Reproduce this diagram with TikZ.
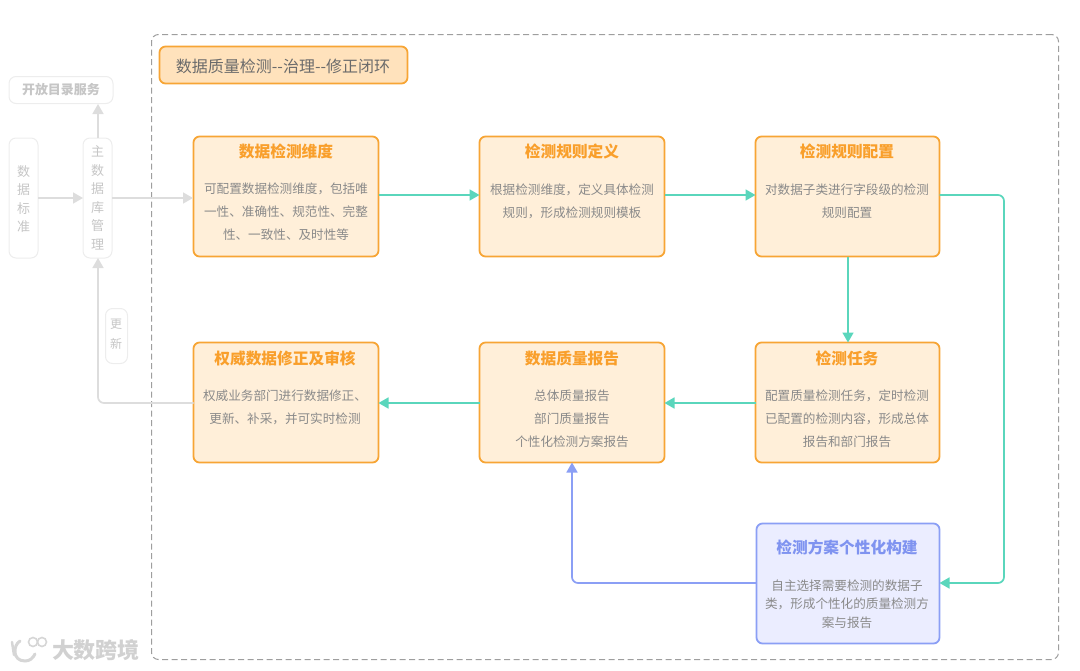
\documentclass[tikz,border=0pt]{standalone}
\usepackage{fontspec}
\setmainfont{Noto Sans CJK SC}
\usetikzlibrary{arrows.meta}
\definecolor{orangeline}{HTML}{F7A535}
\definecolor{orangefill}{HTML}{FFEFD9}
\definecolor{headfill}{HTML}{FFE2BC}
\definecolor{orangetext}{HTML}{F99F2B}
\definecolor{blueline}{HTML}{8B9FF5}
\definecolor{bluefill}{HTML}{EBEDFF}
\definecolor{bluetext}{HTML}{7F93F0}
\definecolor{teal}{HTML}{5AD6BC}
\definecolor{lgray}{HTML}{DDDDDD}
\definecolor{ftext}{HTML}{C6C6C6}
\definecolor{btext}{HTML}{8A8A8A}
\tikzset{
  x=1pt,y=-1pt,
  box/.style={draw=orangeline,fill=orangefill,line width=1.8pt,rounded corners=6pt,anchor=north west,inner sep=0pt,outer sep=0pt},
  bluebox/.style={box,draw=blueline,fill=bluefill},
  headbox/.style={box,fill=headfill},
  ghost/.style={draw=black!7,fill=white,line width=1pt,rounded corners=7pt,anchor=north west,inner sep=0pt,outer sep=0pt},
  ttl/.style={font=\fontsize{15.7}{18}\selectfont\bfseries,text=orangetext,inner sep=0pt},
  bluettl/.style={ttl,text=bluetext},
  body/.style={font=\fontsize{12.6}{23}\selectfont,text=btext,align=center,inner sep=0pt},
  vtxt/.style={font=\fontsize{13}{18.5}\selectfont,text=ftext,align=center,inner sep=0pt},
  conn/.style={draw=teal,line width=1.7pt,rounded corners=6pt,-{Triangle[length=10pt,width=11pt]}},
  connb/.style={conn,draw=blueline},
  conng/.style={conn,draw=lgray},
  frame/.style={draw=black!38,line width=1pt,dash pattern=on 6pt off 3.5pt,rounded corners=7pt,outer sep=0pt},
}
\begin{document}
\begin{tikzpicture}
\useasboundingbox (0,0) rectangle (1080,670);
\node[frame,minimum width=907pt,minimum height=625pt,anchor=north west,inner sep=0pt] (outer) at (151.5,34.5) {};
\node[headbox,minimum width=248pt,minimum height=37pt] (head) at (159.5,46.5) {};
\node[font=\fontsize{16}{18}\selectfont,text=black!58,inner sep=0pt] (headt) at (283,66) {数据质量检测{-}{-}治理{-}{-}修正闭环};

% faded nodes
\node[ghost,minimum width=104pt,minimum height=27pt] (open) at (9,76.5) {};
\node[font=\fontsize{13}{15}\selectfont\bfseries,text=ftext,inner sep=0pt] (opent) at (61,90) {开放目录服务};
\node[ghost,minimum width=29pt,minimum height=120pt] (std) at (9,138) {};
\node[vtxt] (stdt) at (23.5,199) {数\\据\\标\\准};
\node[ghost,minimum width=29pt,minimum height=120pt] (mdm) at (83,138) {};
\node[vtxt] (mdmt) at (97.5,198) {主\\数\\据\\库\\管\\理};
\node[ghost,minimum width=22pt,minimum height=55pt] (upd) at (105.5,308.5) {};
\node[font=\fontsize{12}{19.5}\selectfont,text=ftext,align=center,inner sep=0pt] (updt) at (116,334) {更\\新};

% main boxes
\node[box,minimum width=185pt,minimum height=120pt] (b1) at (193.5,136.5) {};
\node[box,minimum width=185pt,minimum height=120pt] (b2) at (479.5,136.5) {};
\node[box,minimum width=184pt,minimum height=120pt] (b3) at (755.5,136.5) {};
\node[box,minimum width=184pt,minimum height=120pt] (b4) at (755.5,342.5) {};
\node[box,minimum width=185pt,minimum height=120pt] (b5) at (479.5,342.5) {};
\node[box,minimum width=185pt,minimum height=120pt] (b6) at (193.5,342.5) {};
\node[bluebox,minimum width=183pt,minimum height=120pt] (b7) at (756.5,523.5) {};

\node[ttl] (t1) at (286,151) {数据检测维度};
\node[body] (d1) at (286,212) {可配置数据检测维度，包括唯\\一性、准确性、规范性、完整\\性、一致性、及时性等};
\node[ttl] (t2) at (572,151) {检测规则定义};
\node[body] (d2) at (572,201) {根据检测维度，定义具体检测\\规则，形成检测规则模板};
\node[ttl] (t3) at (847,151) {检测规则配置};
\node[body] (d3) at (847,201) {对数据子类进行字段级的检测\\规则配置};
\node[ttl] (t4) at (847,358) {检测任务};
\node[body] (d4) at (847,419) {配置质量检测任务，定时检测\\已配置的检测内容，形成总体\\报告和部门报告};
\node[ttl] (t5) at (572,358) {数据质量报告};
\node[body] (d5) at (572,419) {总体质量报告\\部门质量报告\\个性化检测方案报告};
\node[ttl] (t6) at (285,358) {权威数据修正及审核};
\node[body] (d6) at (285,407.5) {权威业务部门进行数据修正、\\更新、补采，并可实时检测};
\node[bluettl] (t7) at (847,547) {检测方案个性化构建};
\node[font=\fontsize{12.6}{18.5}\selectfont,text=btext,align=center,inner sep=0pt] (d7) at (847,604) {自主选择需要检测的数据子\\类，形成个性化的质量检测方\\案与报告};

% helper coordinates
\coordinate (r1) at (1004,195);
\coordinate (r2) at (1004,583);
\coordinate (a1) at (b1.east |- r1);
\coordinate (a2) at (b2.west |- r1);
\coordinate (a3) at (b2.east |- r1);
\coordinate (a4) at (b3.west |- r1);
\coordinate (a5) at (b3.east |- r1);
\coordinate (a6) at (b7.east |- r2);
\coordinate (l1) at (572,583);
\coordinate (l0) at (b7.west |- l1);
\coordinate (g1) at (98,403);
\coordinate (g0) at (b6.west |- g1);
\coordinate (g2) at (98,258);
\coordinate (g3) at (98,138);
\coordinate (g4) at (98,104);
\coordinate (s1) at (38,198);
\coordinate (s2) at (83,198);
\coordinate (s3) at (112,198);
\coordinate (s4) at (193,198);
\coordinate (o1) at (b4.west |- g1);
\coordinate (o2) at (b5.east |- g1);
\coordinate (o3) at (b5.west |- g1);
\coordinate (o4) at (b6.east |- g1);
\coordinate (v1) at (848,256.5);
\coordinate (v2) at (848,342.5);

% connectors
\draw[conn] (a1) -- (a2);
\draw[conn] (a3) -- (a4);
\draw[conn] (a5) -- (r1) -- (r2) -- (a6);
\draw[conn] (v1) -- (v2);
\draw[conn] (o1) -- (o2);
\draw[conn] (o3) -- (o4);
\draw[connb] (l0) -- (l1) -- (b5.south -| l1);
\draw[conng] (g0) -- (g1) -- (g2);
\draw[conng] (s1) -- (s2);
\draw[conng] (s3) -- (s4);
\draw[conng] (g3) -- (g4);

% watermark
\draw[black!16,line width=3pt,line cap=round] (20,641) .. controls (13,645) and (12,661) .. (25,661) .. controls (30,661) and (33,658) .. (35,654);
\draw[black!16,line width=2.5pt,line cap=round] (12,642) -- (14,655);
\draw[black!16,line width=1.6pt] (33,642) circle (4.5pt);
\draw[black!16,line width=1.6pt] (42,642) circle (4.5pt);
\node[font=\fontsize{22}{24}\selectfont\bfseries,text=black!18,inner sep=0pt] (wm) at (96,650) {大数跨境};
\end{tikzpicture}
\end{document}
